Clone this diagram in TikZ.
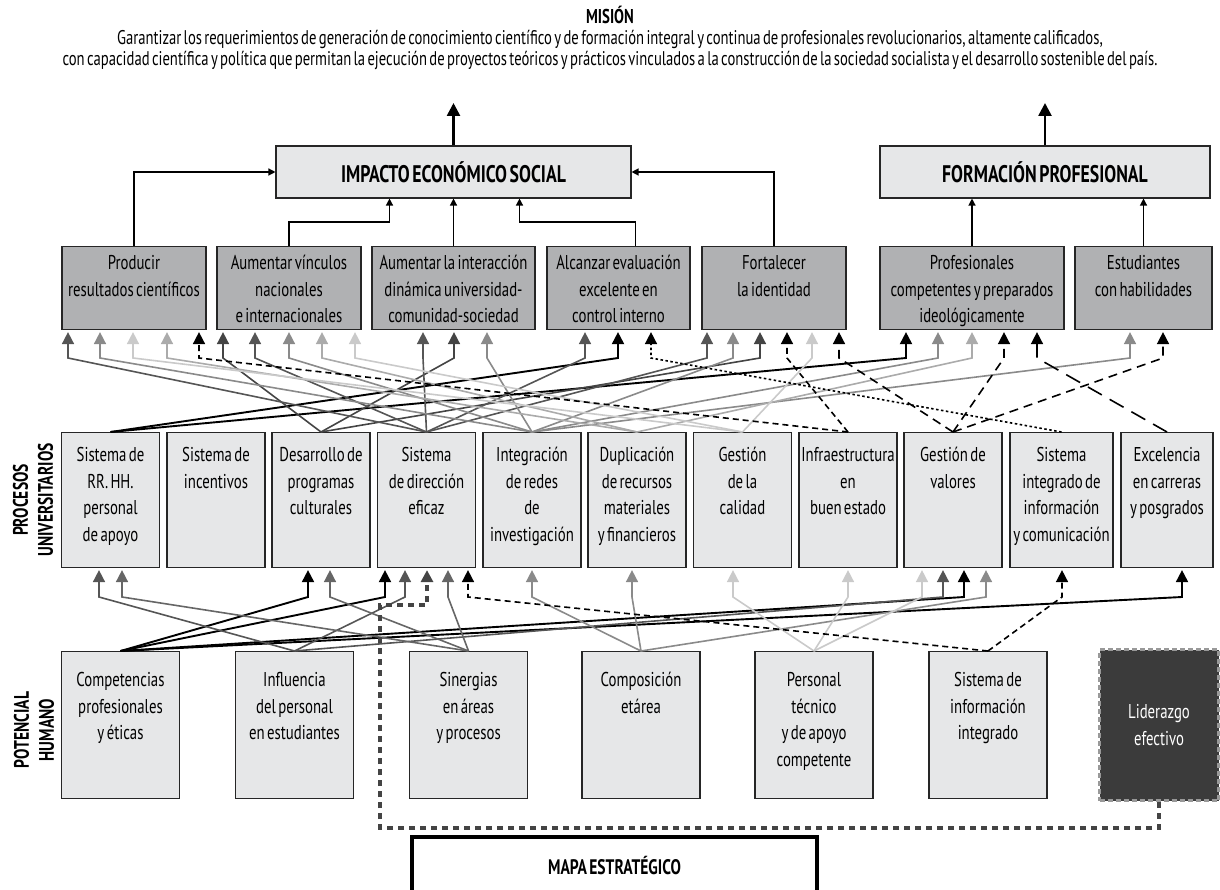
\documentclass[tikz,border=0pt]{standalone}
\usepackage{fontspec}
\setmainfont{PT Sans}[FakeStretch=0.74, WordSpace=0.6]
\usetikzlibrary{arrows.meta}

\definecolor{fillpale}{HTML}{E6E7E8}
\definecolor{fillgoal}{HTML}{B0B1B3}
\definecolor{fillleader}{HTML}{3B3B3B}
\definecolor{tone1}{HTML}{444444}
\definecolor{tone2}{HTML}{555555}
\definecolor{tone3}{HTML}{666666}
\definecolor{tone4}{HTML}{8A8A8A}
\definecolor{tone5}{HTML}{ABABAB}
\definecolor{tone6}{HTML}{CACACA}

\tikzset{
  txt/.style={font=\fontsize{20}{26.7}\selectfont},
  heading/.style={font=\fontsize{24}{28}\selectfont\bfseries},
  side/.style={font=\fontsize{21}{25}\selectfont\bfseries, rotate=90, align=center},
  goal/.style={txt, draw=black!85, line width=1.1pt, fill=fillgoal, anchor=north,
    align=flush center, inner xsep=0pt, inner ysep=4pt, text height=19pt, text depth=56pt},
  proc/.style={goal, fill=fillpale, text width=98pt, text height=25pt, text depth=102pt},
  base/.style={goal, fill=fillpale, text width=118pt, text height=31pt, text depth=108pt},
  lead/.style={txt, fill=fillleader, text=white, draw=gray!80, line width=3pt,
    dash pattern=on 5pt off 3pt, anchor=north, align=flush center,
    minimum width=119pt, minimum height=151pt},
  result/.style={heading, draw=black!85, line width=1.1pt, fill=fillpale, minimum height=52pt},
  feed/.style={line width=1.3pt, -{Triangle[width=7pt,length=7pt]}},
  aim/.style={line width=2.6pt, -{Triangle[width=13pt,length=13pt]}},
  link/.style={line width=1.6pt, -{Triangle[width=12pt,length=12pt]}, shorten >=2pt},
  % lines leaving the university processes
  src1/.style={link, black, line width=1.9pt},
  src3/.style={link, tone1},
  src4/.style={link, tone2},
  src5/.style={link, tone4},
  src6/.style={link, tone5},
  src7/.style={link, tone6},
  src8/.style={link, black, dash pattern=on 6pt off 4pt},
  src9/.style={link, black, dash pattern=on 9pt off 6pt},
  src10/.style={link, black, dash pattern=on 2.5pt off 2.5pt},
  src11/.style={link, black, dash pattern=on 16pt off 9pt},
  % lines leaving the human potential
  hum1/.style={link, black, line width=1.9pt},
  hum2/.style={link, tone2},
  hum3/.style={link, tone3},
  hum4/.style={link, tone4},
  hum5/.style={link, tone6},
  hum6/.style={link, black, dash pattern=on 6pt off 4pt},
  leadline/.style={link, tone1, line width=3.5pt, dash pattern=on 6pt off 5pt}
}

\begin{document}
\begin{tikzpicture}[x=1pt,y=-1pt]
  \useasboundingbox (0,0) rectangle (1220,890);

  \node[font=\fontsize{20}{24}\selectfont\bfseries] (titulo) at (610,15) {MISIÓN};
  \node[font=\fontsize{19.8}{20.5}\selectfont, align=center] (mision) at (610,50)
    {Garantizar los requerimientos de generación de conocimiento científico y de formación integral y continua de profesionales revolucionarios, altamente calificados,\\
     con capacidad científica y política que permitan la ejecución de proyectos teóricos y prácticos vinculados a la construcción de la sociedad socialista y el desarrollo sostenible del país.};

  \node[result, minimum width=355pt] (impacto) at (453.5,172) {IMPACTO ECONÓMICO SOCIAL};
  \node[result, minimum width=330pt] (formacion) at (1045,172) {FORMACIÓN PROFESIONAL};
  \coordinate (up1) at (453.5,103);
  \coordinate (up2) at (1045,103);
  \draw[aim] (impacto.north) -- (up1);
  \draw[aim] (formacion.north) -- (up2);

  % objectives
  \node[goal, text width=144pt] (p1) at (134,246) {Producir\\resultados científicos};
  \node[goal, text width=144pt] (p2) at (289,246) {Aumentar vínculos\\nacionales\\e internacionales};
  \node[goal, text width=163pt] (p3) at (453.5,246) {Aumentar la interacción\\dinámica universidad-\\comunidad-sociedad};
  \node[goal, text width=143pt] (p4) at (618.5,246) {Alcanzar evaluación\\excelente en\\control interno};
  \node[goal, text width=144pt] (p5) at (774,246) {Fortalecer\\la identidad};
  \node[goal, text width=184pt] (p6) at (972,246) {Profesionales\\competentes y preparados\\ideológicamente};
  \node[goal, text width=137pt] (p7) at (1143.5,246) {Estudiantes\\con habilidades};

  \draw[feed] (p1.north) |- (impacto.west);
  \draw[feed] (p5.north) |- (impacto.east);
  \draw[feed] (p2.north) -- ++(0,-24) -| ([xshift=-64pt]impacto.south);
  \draw[feed] (p3.north) -- (impacto.south);
  \draw[feed] ([xshift=17pt]p4.north) -- ++(0,-24) -| ([xshift=66pt]impacto.south);
  \draw[feed] (p6.north) -- (p6.north |- formacion.south);
  \draw[feed] (p7.north) -- (p7.north |- formacion.south);

  % university processes
  \node[side] (procesos) at (33,500) {PROCESOS\\UNIVERSITARIOS};
  \node[proc] (m1) at (110.5,432) {Sistema de\\RR. HH.\\personal\\de apoyo};
  \node[proc] (m2) at (216,432) {Sistema de\\incentivos};
  \node[proc] (m3) at (321,432) {Desarrollo de\\programas\\culturales};
  \node[proc] (m4) at (426.5,432) {Sistema\\de dirección\\eficaz};
  \node[proc] (m5) at (532,432) {Integración\\de redes\\de\\investigación};
  \node[proc] (m6) at (637,432) {Duplicación\\de recursos\\materiales\\y financieros};
  \node[proc] (m7) at (742.5,432) {Gestión\\de la\\calidad};
  \node[proc] (m8) at (848,432) {Infraestructura\\en\\buen estado};
  \node[proc] (m9) at (953,432) {Gestión de\\valores};
  \node[proc, text width=103pt] (m10) at (1061.5,432) {Sistema\\integrado de\\información\\y comunicación};
  \node[proc, text width=92pt] (m11) at (1167,432) {Excelencia\\en carreras\\y posgrados};

  % human potential
  \node[side] (humano) at (34,730) {POTENCIAL\\HUMANO};
  \node[base] (b1) at (120.5,651) {Competencias\\profesionales\\y éticas};
  \node[base] (b2) at (294.5,651) {Influencia\\del personal\\en estudiantes};
  \node[base] (b3) at (468.5,651) {Sinergias\\en áreas\\y procesos};
  \node[base] (b4) at (641,651) {Composición\\etárea};
  \node[base] (b5) at (814,651) {Personal\\técnico\\y de apoyo\\competente};
  \node[base] (b6) at (988,651) {Sistema de\\información\\integrado};
  \node[lead] (b7) at (1159,648) {Liderazgo\\efectivo};

  \node[font=\fontsize{21}{25}\selectfont\bfseries, draw, line width=4pt, fill=white,
    minimum width=405pt, minimum height=58pt] (mapa) at (614.5,866) {MAPA ESTRATÉGICO};

  % processes -> objectives
  \draw[src1] (m1.north) -- (618,358) -- (618,0 |- p4.south);
  \draw[src1] (m1.north) -- (906,358) -- (906,0 |- p6.south);
  \draw[src3] (m3.north) -- (223,358) -- (223,0 |- p2.south);
  \draw[src3] (m3.north) -- (454,358) -- (454,0 |- p3.south);
  \draw[src3] (m3.north) -- (760,358) -- (760,0 |- p5.south);
  \draw[src4] (m4.north) -- (68,358) -- (68,0 |- p1.south);
  \draw[src4] (m4.north) -- (255,358) -- (255,0 |- p2.south);
  \draw[src4] (m4.north) -- (423,358) -- (423,0 |- p3.south);
  \draw[src4] (m4.north) -- (585,358) -- (585,0 |- p4.south);
  \draw[src4] (m4.north) -- (707,358) -- (707,0 |- p5.south);
  \draw[src5] (m5.north) -- (100,358) -- (100,0 |- p1.south);
  \draw[src5] (m5.north) -- (289,358) -- (289,0 |- p2.south);
  \draw[src5] (m5.north) -- (487,358) -- (487,0 |- p3.south);
  \draw[src5] (m5.north) -- (733,358) -- (733,0 |- p5.south);
  \draw[src5] (m5.north) -- (938,358) -- (938,0 |- p6.south);
  \draw[src5] (m5.north) -- (1130,358) -- (1130,0 |- p7.south);
  \draw[src6] (m6.north) -- (167,358) -- (167,0 |- p1.south);
  \draw[src6] (m6.north) -- (322,358) -- (322,0 |- p2.south);
  \draw[src6] (m6.north) -- (972,358) -- (972,0 |- p6.south);
  \draw[src7] (m7.north) -- (133,358) -- (133,0 |- p1.south);
  \draw[src7] (m7.north) -- (355,358) -- (355,0 |- p2.south);
  \draw[src7] (m7.north) -- (812,358) -- (812,0 |- p5.south);
  \draw[src8] (m8.north) -- (199,358) -- (199,0 |- p1.south);
  \draw[src8] (m8.north) -- (787,358) -- (787,0 |- p5.south);
  \draw[src9] (m9.north) -- (839,358) -- (839,0 |- p5.south);
  \draw[src9] (m9.north) -- (1004,358) -- (1004,0 |- p6.south);
  \draw[src9] (m9.north) -- (1163,358) -- (1163,0 |- p7.south);
  \draw[src10] (m10.north) -- (651,358) -- (651,0 |- p4.south);
  \draw[src11] (m11.north) -- (1037,358) -- (1037,0 |- p6.south);

  % human potential -> processes
  \draw[hum1] (b1.north) -- (308,597) -- (308,0 |- m3.south);
  \draw[hum1] (b1.north) -- (385,597) -- (385,0 |- m4.south);
  \draw[hum1] (b1.north) -- (964,597) -- (964,0 |- m9.south);
  \draw[hum1] (b1.north) -- (1182,597) -- (1182,0 |- m11.south);
  \draw[hum2] (b2.north) -- (99,597) -- (99,0 |- m1.south);
  \draw[hum2] (b2.north) -- (405,597) -- (405,0 |- m4.south);
  \draw[hum2] (b2.north) -- (943,597) -- (943,0 |- m9.south);
  \draw[hum3] (b3.north) -- (122,597) -- (122,0 |- m1.south);
  \draw[hum3] (b3.north) -- (330,597) -- (330,0 |- m3.south);
  \draw[hum3] (b3.north) -- (448,597) -- (448,0 |- m4.south);
  \draw[hum4] (b4.north) -- (532,597) -- (532,0 |- m5.south);
  \draw[hum4] (b4.north) -- (632,597) -- (632,0 |- m6.south);
  \draw[hum4] (b4.north) -- (986,597) -- (986,0 |- m9.south);
  \draw[hum5] (b5.north) -- (733,597) -- (733,0 |- m7.south);
  \draw[hum5] (b5.north) -- (848,597) -- (848,0 |- m8.south);
  \draw[hum5] (b5.north) -- (922,597) -- (922,0 |- m9.south);
  \draw[hum6] (b6.north) -- (468,597) -- (468,0 |- m4.south);
  \draw[hum6] (b6.north) -- (1062,597) -- (1062,0 |- m10.south);
  \draw[leadline] (b7.south) -- ++(0,26) -| (380,605) -| (427,0 |- m4.south);
\end{tikzpicture}
\end{document}
